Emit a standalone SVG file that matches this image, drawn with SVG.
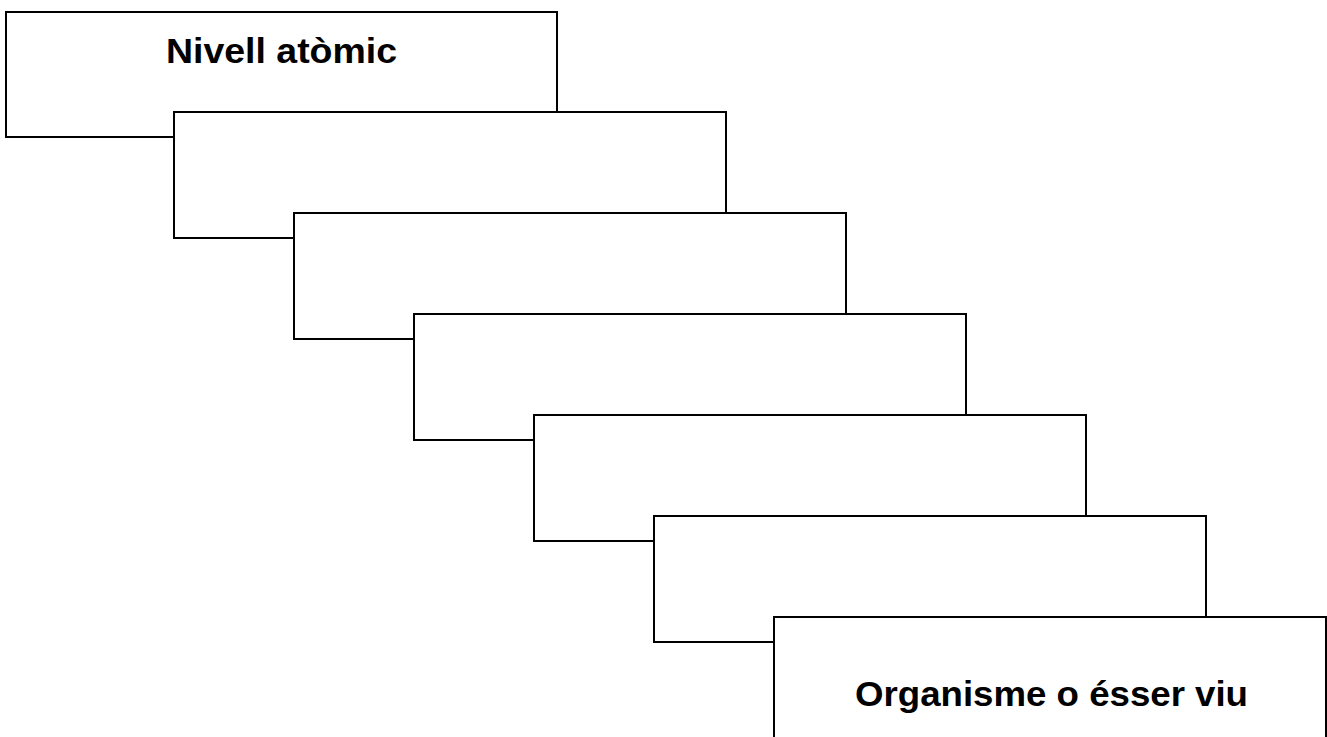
<svg xmlns="http://www.w3.org/2000/svg" width="1327" height="737" viewBox="0 0 1327 737">
<style>
.box{fill:#ffffff;stroke:#000000;stroke-width:2}
.lbl{font-family:"Comic Sans MS","Liberation Sans",Arial,sans-serif;font-weight:bold;font-size:35px;fill:#000000;text-anchor:middle}
</style>
<rect x="0" y="0" width="1327" height="737" fill="#ffffff"/>
<g id="node1"><rect class="box" x="6" y="12" width="551" height="125"/>
<text class="lbl" x="281.5" y="63" textLength="231" lengthAdjust="spacingAndGlyphs">Nivell atòmic</text></g>
<g id="node2"><rect class="box" x="174" y="112" width="552" height="126"/></g>
<g id="node3"><rect class="box" x="294" y="213" width="552" height="126"/></g>
<g id="node4"><rect class="box" x="414" y="314" width="552" height="126"/></g>
<g id="node5"><rect class="box" x="534" y="415" width="552" height="126"/></g>
<g id="node6"><rect class="box" x="654" y="516" width="552" height="126"/></g>
<g id="node7"><rect class="box" x="774" y="617" width="552" height="140"/>
<text class="lbl" x="1051.5" y="706" textLength="393" lengthAdjust="spacingAndGlyphs">Organisme o ésser viu</text></g>
<g id="connectors"></g>
</svg>
